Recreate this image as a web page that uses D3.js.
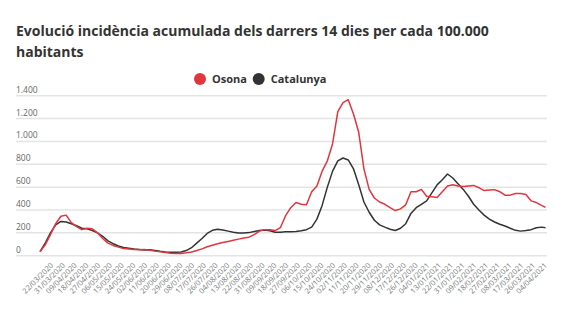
<!DOCTYPE html>
<html>
<head>
<meta charset="utf-8">
<script src="https://cdn.jsdelivr.net/npm/d3@7"></script>
<style>
  body { margin: 0; background: #fff; }
  svg text { font-family: "Open Sans", sans-serif; }
</style>
</head>
<body>
<div id="viz-container"></div>
<script>
let dates = [
  "2020-03-13","2020-03-17","2020-03-21","2020-03-25","2020-03-29","2020-04-02","2020-04-06","2020-04-10",
  "2020-04-14","2020-04-18","2020-04-22","2020-04-26","2020-04-30","2020-05-04","2020-05-08","2020-05-12",
  "2020-05-16","2020-05-20","2020-05-24","2020-05-28","2020-06-01","2020-06-05","2020-06-09","2020-06-13",
  "2020-06-17","2020-06-21","2020-06-25","2020-06-29","2020-07-03","2020-07-07","2020-07-11","2020-07-15",
  "2020-07-19","2020-07-23","2020-07-27","2020-07-31","2020-08-04","2020-08-08","2020-08-12","2020-08-16",
  "2020-08-20","2020-08-24","2020-08-28","2020-09-01","2020-09-05","2020-09-09","2020-09-13","2020-09-17",
  "2020-09-21","2020-09-25","2020-09-29","2020-10-03","2020-10-07","2020-10-11","2020-10-15","2020-10-19",
  "2020-10-23","2020-10-27","2020-10-31","2020-11-04","2020-11-08","2020-11-12","2020-11-16","2020-11-20",
  "2020-11-24","2020-11-28","2020-12-02","2020-12-06","2020-12-10","2020-12-14","2020-12-18","2020-12-22",
  "2020-12-26","2020-12-30","2021-01-03","2021-01-07","2021-01-11","2021-01-15","2021-01-19","2021-01-23",
  "2021-01-27","2021-01-31","2021-02-04","2021-02-08","2021-02-12","2021-02-16","2021-02-20","2021-02-24",
  "2021-02-28","2021-03-04","2021-03-08","2021-03-12","2021-03-16","2021-03-20","2021-03-24","2021-03-28",
  "2021-04-01","2021-04-04"
];

let osona = [
  35, 95, 185, 280, 345, 355, 290, 255, 228, 240, 235, 200, 150, 110, 90, 75,
  62, 58, 55, 52, 55, 48, 40, 35, 28, 22, 20, 20, 25, 32, 45, 60,
  78, 92, 105, 115, 125, 135, 145, 155, 162, 185, 215, 228, 228, 220, 245, 350,
  420, 465, 450, 445, 560, 610, 740, 830, 980, 1260, 1340, 1365, 1240, 1080, 760, 580,
  505, 470, 450, 420, 395, 410, 445, 560, 560, 580, 520, 515, 510, 560, 610, 620,
  610, 605, 610, 615, 595, 570, 575, 578, 560, 530, 530, 545, 545, 535, 480, 465,
  440, 423
];

let catalunya = [
  35, 110, 200, 270, 300, 295, 280, 262, 240, 235, 220, 200, 170, 130, 105, 85,
  72, 65, 58, 55, 50, 52, 45, 38, 33, 30, 30, 32, 45, 70, 110, 150,
  195, 222, 232, 225, 215, 205, 198, 198, 202, 212, 220, 225, 218, 205, 205, 210,
  210, 212, 218, 228, 250, 320, 440, 600, 740, 830, 855, 838, 760, 620, 470, 380,
  310, 270, 250, 232, 220, 240, 280, 370, 420, 450, 480, 550, 620, 665, 715, 680,
  630, 580, 520, 450, 400, 355, 320, 295, 275, 260, 240, 222, 215, 220, 228, 245,
  250, 245
];

let yTicks = [0, 200, 400, 600, 800, 1000, 1200, 1400];

let xTickLabels = [
  "22/03/2020","31/03/2020","09/04/2020","18/04/2020","27/04/2020","06/05/2020","15/05/2020",
  "24/05/2020","02/06/2020","11/06/2020","20/06/2020","29/06/2020","08/07/2020","17/07/2020",
  "26/07/2020","04/08/2020","13/08/2020","22/08/2020","31/08/2020","09/09/2020","18/09/2020",
  "27/09/2020","06/10/2020","15/10/2020","24/10/2020","02/11/2020","11/11/2020","20/11/2020",
  "29/11/2020","08/12/2020","17/12/2020","26/12/2020","04/01/2021","13/01/2021","22/01/2021",
  "31/01/2021","09/02/2021","18/02/2021","27/02/2021","08/03/2021","17/03/2021","26/03/2021",
  "04/04/2021"
];

let seriesNames = ["Osona", "Catalunya"];
let seriesColors = ["#e0363d", "#333333"];

let parseDate = d3.timeParse("%Y-%m-%d");
let parseLabel = d3.timeParse("%d/%m/%Y");
let formatNum = d3.formatLocale({decimal: ",", thousands: ".", grouping: [3], currency: ["", "€"]}).format(",d");

let width = 570, height = 321;

let viz = d3.select("#viz-container")
  .append("svg")
    .attr("width", width)
    .attr("height", height);

// title
let title = viz.append("text")
  .attr("x", 16)
  .attr("y", 36)
  .attr("fill", "#333")
  .attr("font-size", 14)
  .attr("font-weight", "bold");
title.append("tspan").attr("x", 16).attr("dy", 0)
  .text("Evolució incidència acumulada dels darrers 14 dies per cada 100.000");
title.append("tspan").attr("x", 16).attr("dy", 21)
  .text("habitants");

// legend
let legendX = [200, 258.7];
let legend = viz.selectAll(".legend").data(seriesNames)
  .enter()
    .append("g")
    .attr("class", "legend")
    .attr("transform", (d, i) => "translate(" + legendX[i] + ",79)");
legend.append("circle")
  .attr("r", 6)
  .attr("fill", (d, i) => seriesColors[i]);
legend.append("text")
  .attr("x", 12)
  .attr("y", 4)
  .attr("font-size", 11)
  .attr("font-weight", "bold")
  .attr("fill", "#333")
  .text(d => d);

// scales
let x = d3.scaleTime()
  .domain([parseDate(dates[0]), parseDate(dates[dates.length - 1])])
  .range([40, 545.5]);
let y = d3.scaleLinear()
  .domain([0, 1400])
  .range([255.7, 95.7]);

// grid + y labels
let grid = viz.append("g");
grid.selectAll("line").data(yTicks)
  .enter()
    .append("line")
    .attr("x1", 16)
    .attr("x2", 547)
    .attr("y1", d => y(d))
    .attr("y2", d => y(d))
    .attr("stroke", "#e4e4e4")
    .attr("stroke-width", 1.5);
grid.selectAll("text").data(yTicks)
  .enter()
    .append("text")
    .attr("x", 16)
    .attr("y", d => y(d) - 3)
    .attr("font-size", 8.5)
    .attr("fill", "#666")
    .text(d => formatNum(d));

// x labels
viz.append("g").selectAll("text").data(xTickLabels)
  .enter()
    .append("text")
    .attr("text-anchor", "end")
    .attr("font-size", 7.5)
    .attr("fill", "#777")
    .attr("transform", d => "translate(" + (x(parseLabel(d)) + 2) + ",266) rotate(-45)")
    .text(d => d);

// lines
let line = d3.line()
  .x((d, i) => x(parseDate(dates[i])))
  .y(d => y(d));

viz.selectAll(".serie").data([catalunya, osona])
  .enter()
    .append("path")
    .attr("class", "serie")
    .attr("d", line)
    .attr("fill", "none")
    .attr("stroke", (d, i) => i == 0 ? seriesColors[1] : seriesColors[0])
    .attr("stroke-width", 1.5)
    .attr("stroke-linejoin", "round");
</script>
</body>
</html>
